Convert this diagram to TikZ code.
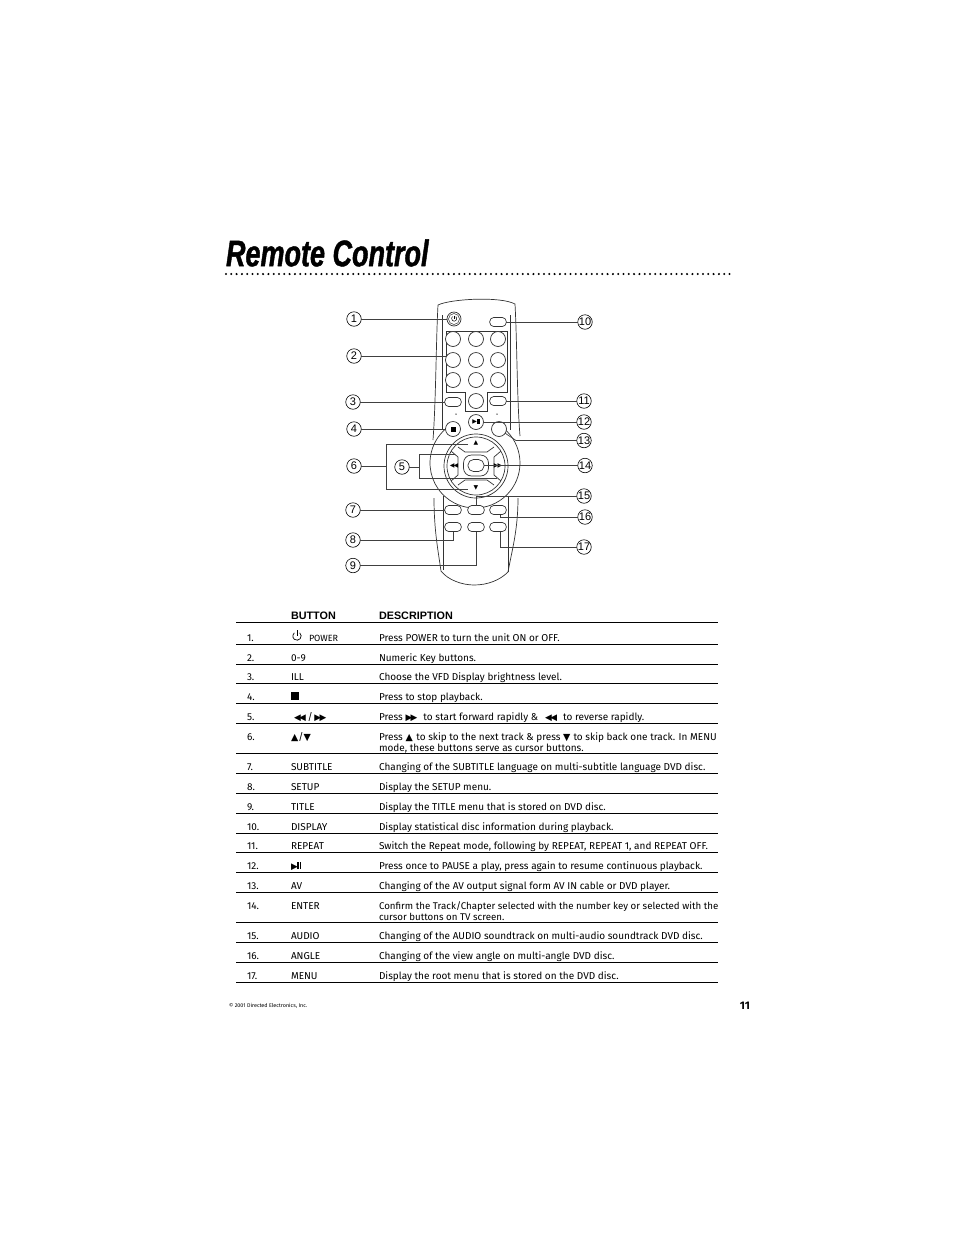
\documentclass[tikz,border=0pt]{standalone}
\usepackage{fontspec}
\setmainfont{Fira Sans}
\newfontfamily\titlefont[BoldItalicFeatures={FakeStretch=.73,FakeBold=1.1}]{Liberation Sans}
\newfontfamily\armfont{Liberation Sans}
\newfontfamily\symfont{DejaVu Sans}
\newcommand{\symup}{{\symfont\fontsize{9.5}{9}\selectfont ▲}}
\newcommand{\symdown}{{\symfont\fontsize{9.5}{9}\selectfont ▼}}
\newcommand{\symfwd}{{\symfont\fontsize{8.8}{9}\selectfont ▶\kern-1.6pt▶}}
\newcommand{\symrew}{{\symfont\fontsize{8.8}{9}\selectfont ◀\kern-1.6pt◀}}
\newcommand{\symplay}{{\symfont\fontsize{8.8}{9}\selectfont ▶\kern-.6pt\rule{1.6pt}{7pt}\kern.8pt\rule{1.6pt}{7pt}}}
\begin{document}
\begin{tikzpicture}[x=1pt,y=-1pt,
    every node/.style={inner sep=0pt,outer sep=0pt},
    callout/.style={draw,circle,minimum size=14.5pt,line width=.6pt,font=\armfont\fontsize{11}{11}\selectfont},
    lead/.style={line width=.7pt,black!75},
    body/.style={line width=.7pt,black!80},
    key/.style={draw=black!80,circle,fill=white,minimum size=15pt,line width=.7pt},
    pill/.style={draw=black!80,rounded corners=4pt,fill=white,minimum width=16.5pt,minimum height=9pt,line width=.7pt},
    cell/.style={anchor=base west,align=left,font=\fontsize{10}{11}\selectfont},
    head/.style={anchor=base west,font=\armfont\bfseries\fontsize{10.8}{11}\selectfont}]
  \useasboundingbox (0,0) rectangle (954,1235);

  % title
  \node [anchor=west,font=\titlefont\bfseries\itshape\fontsize{37}{37}\selectfont] (title) at (226,253) {Remote Control};
  \coordinate (dotsa) at (226,274);
  \coordinate (dotsb) at (730,274);
  \draw [line width=2.3pt,line cap=round,dash pattern=on 0pt off 5.3pt,black] (dotsa) -- (dotsb);

  % remote body
  \draw [body] (438,305) .. controls (450,299) and (500,296) .. (515,304)
    .. controls (517,340) and (517,400) .. (520,436);
  \draw [body] (438,305) .. controls (436,340) and (436,400) .. (433,440);
  \draw [body] (434,498) .. controls (434,530) and (438,550) .. (441,571)
    .. controls (448,580) and (462,585) .. (474,585)
    .. controls (488,585) and (500,580) .. (508,572)
    .. controls (512,550) and (518,530) .. (518,498);
  \draw [body] (442,315) -- (442,430);
  \draw [body] (510,315) -- (510,430);
  \draw [body] (443,496) -- (443,570);
  \draw [body] (508,496) -- (508,572);
  \draw [body] (475,463) ++(-50:45) arc (-50:230:45);

  % wheel
  \draw [body] (476,466) circle (32);
  \draw [body] (476,466) circle (29);
  \draw [body] (458,447) -- (465,452) -- (487,452) -- (494,447);
  \draw [body] (458,485) -- (465,480) -- (487,480) -- (494,485);
  \draw [body] (451,451) -- (458,457) -- (458,475) -- (451,481);
  \draw [body] (501,451) -- (494,457) -- (494,475) -- (501,481);
  \node [draw=black!80,rounded corners=8pt,minimum width=25pt,minimum height=21pt,line width=.7pt] (enter) at (476,465.5) {};
  \node [draw=black!80,rounded corners=5.5pt,minimum width=16pt,minimum height=12pt,line width=.7pt] (enterin) at (476,465.5) {};
  \node (wup) at (476,443) {\symfont\fontsize{6}{6}\selectfont ▲};
  \node (wdown) at (476,488) {\symfont\fontsize{6}{6}\selectfont ▼};
  \node (wrew) at (454,465.5) {\symfont\fontsize{6}{6}\selectfont ◀\kern-1pt◀};
  \node (wfwd) at (498,465.5) {\symfont\fontsize{6}{6}\selectfont ▶\kern-1pt▶};

  % number keys
  \draw [body] (446,331) -- (507,331) -- (507,392) -- (487,392) -- (487,411) -- (465,411) -- (465,392) -- (446,392) -- cycle;
  \coordinate (keyside) at (446,356);
  \foreach \col/\xx in {a/453,b/476,c/498}
    \foreach \row/\yy in {1/339,2/360,3/380}
      \node [key] (k\col\row) at (\xx,\yy) {};
  \node [key] (kzero) at (476,401) {};
  \node [key,minimum size=14pt] (power) at (454,319) {};
  \node [draw=black!80,circle,minimum size=11pt,line width=.5pt] (powerin) at (454,319) {};
  \draw [line width=.5pt] (454,315.5) -- (454,319);
  \draw [line width=.5pt] (455.8,316.6) arc (-50:230:2.6);
  \node [pill] (display) at (498,322) {};
  \node [pill] (ill) at (453,402) {};
  \node [pill] (repeat) at (498,401) {};
  \node [key] (stop) at (453,429) {\rule{5pt}{5pt}};
  \node [key] (play) at (476,422) {\fontsize{6}{6}\selectfont\symfont ▶\kern-.3pt\rule{1.1pt}{4.5pt}\kern.5pt\rule{1.1pt}{4.5pt}};
  \node [key] (av) at (499,429) {};
  \node [fill=black!80,circle,minimum size=1.5pt] (ledl) at (456,414) {};
  \node [fill=black!80,circle,minimum size=1.5pt] (ledr) at (497,414) {};
  \node [pill] (subtitle) at (453,510) {};
  \node [pill] (audio) at (476,510) {};
  \node [pill] (angle) at (498,510) {};
  \node [pill] (setup) at (453,527) {};
  \node [pill] (titlekey) at (476,527) {};
  \node [pill] (menu) at (498,527) {};

  % callouts
  \foreach \n/\xx/\yy in {1/354/319,2/354/356,3/353/402,4/354/429,5/402/467,6/354/466,7/353/510,8/353/540,9/353/565.5,
      10/585/322,11/584/401,12/584/422,13/584/440.5,14/585/465.5,15/584/496,16/585/517,17/584/547}
    \node [callout] (c\n) at (\xx,\yy) {\n};

  % leaders
  \draw [lead] (c1) -- (power);
  \draw [lead] (c2) -- (keyside);
  \draw [lead] (c3) -- (ill);
  \draw [lead] (c4) -- (stop);
  \coordinate (fivetop) at (455,454);
  \coordinate (fivebot) at (497,478);
  \coordinate (fivemid) at (419,467);
  \draw [lead] (c5) -- (fivemid);
  \draw [lead] (fivetop) -- (419,454) -- (419,478) -- (fivebot);
  \coordinate (sixmid) at (386,466);
  \draw [lead] (c6) -- (sixmid);
  \draw [lead] (468,444) -- (386,444) -- (386,489) -- (468,489);
  \draw [lead] (c7) -- (subtitle);
  \draw [lead] (setup) -- (453,540) -- (c8);
  \draw [lead] (titlekey) -- (476,565.5) -- (c9);
  \draw [lead] (c10) -- (display);
  \draw [lead] (c11) -- (repeat);
  \draw [lead] (c12) -- (play);
  \draw [lead] (c13) -- (516,440.5) -- (av);
  \draw [lead] (c14) -- (enterin);
  \draw [lead] (c15) -- (476,496) -- (audio);
  \draw [lead] (c16) -- (500,517) -- (500,514.5);
  \draw [lead] (c17) -- (500,547) -- (500,531.5);

  % table
  \node [head] (hbutton) at (291,619) {BUTTON};
  \node [head] (hdesc) at (379,619) {DESCRIPTION};
  \foreach \yy in {622,644,664,683,703,723,753,773,793,813,833,852,872,892,922,942,962,982}
    \draw [line width=.8pt] (236,\yy) -- (718,\yy);
  \foreach \n/\yy/\btn/\desc in {
      1./641/{\hspace*{18pt}\fontsize{9}{9}\selectfont POWER}/{Press POWER to turn the unit ON or OFF.},
      2./661/{0-9}/{Numeric Key buttons.},
      3./680/{ILL}/{Choose the VFD Display brightness level.},
      4./700/{\rule{8pt}{8pt}}/{Press to stop playback.},
      5./720/{\hspace*{3pt}\symrew\,/\,\symfwd}/{Press \symfwd\hspace{6pt}to start forward rapidly \&\hspace{7pt}\symrew\hspace{6pt}to reverse rapidly.},
      6./740/{\symup/\symdown}/{},
      7./770/{SUBTITLE}/{Changing of the SUBTITLE language on multi-subtitle language DVD disc.},
      8./790/{SETUP}/{Display the SETUP menu.},
      9./810/{TITLE}/{Display the TITLE menu that is stored on DVD disc.},
      10./830/{DISPLAY}/{Display statistical disc information during playback.},
      11./849/{REPEAT}/{Switch the Repeat mode, following by REPEAT, REPEAT 1, and REPEAT OFF.},
      12./869/{\symplay}/{Press once to PAUSE a play, press again to resume continuous playback.},
      13./889/{AV}/{Changing of the AV output signal form AV IN cable or DVD player.},
      14./909/{ENTER}/{},
      15./939/{AUDIO}/{Changing of the AUDIO soundtrack on multi-audio soundtrack DVD disc.},
      16./959/{ANGLE}/{Changing of the view angle on multi-angle DVD disc.},
      17./979/{MENU}/{Display the root menu that is stored on the DVD disc.}} {
    \node [cell] (n\yy) at (247,\yy) {\n};
    \node [cell] (b\yy) at (291,\yy) {\btn};
    \node [cell] (d\yy) at (379,\yy) {\desc};
  }
  \node [cell] (dsix) at (379,751) {Press \symup\hspace{3.5pt}to skip to the next track \& press \symdown\hspace{3pt}to skip back one track. In MENU\\mode, these buttons serve as cursor buttons.};
  \node [cell,font=\fontsize{9.72}{11}\selectfont] (denter) at (379,920) {Confirm the Track/Chapter selected with the number key or selected with the\\cursor buttons on TV screen.};
  \draw [line width=.7pt] (299.7,632.8) arc (-50:230:4.2);
  \draw [line width=.7pt] (297,630) -- (297,636);

  % footer
  \node [anchor=west,font=\fontsize{5.4}{7}\selectfont] (copy) at (229,1006) {© 2001 Directed Electronics, Inc.};
  \node [anchor=east,font=\bfseries\fontsize{11}{11}\selectfont] (page) at (750,1006) {11};
\end{tikzpicture}
\end{document}
